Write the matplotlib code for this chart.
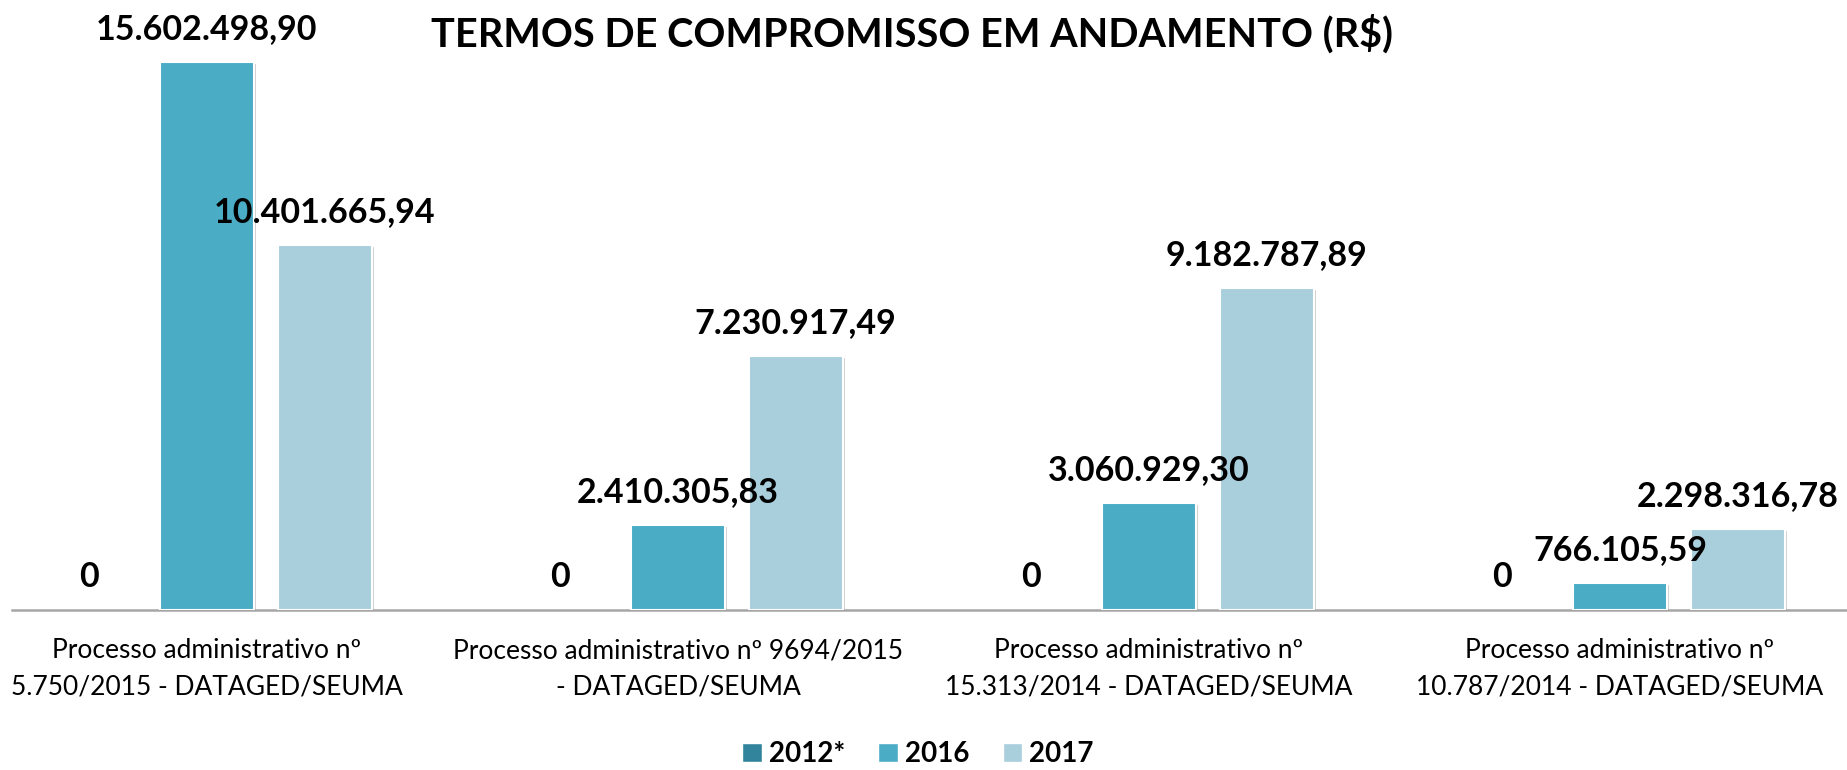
import matplotlib
matplotlib.use("Agg")
import matplotlib.pyplot as plt
import matplotlib.patheffects as pe
from matplotlib.patches import Patch
from matplotlib.transforms import blended_transform_factory
import numpy as np

# ---------------- data ----------------
categories = [
    "Processo administrativo nº\n5.750/2015 - DATAGED/SEUMA",
    "Processo administrativo nº 9694/2015\n- DATAGED/SEUMA",
    "Processo administrativo nº\n15.313/2014 - DATAGED/SEUMA",
    "Processo administrativo nº\n10.787/2014 - DATAGED/SEUMA",
]
series_names = ["2012*", "2016", "2017"]
values_2012 = [0, 0, 0, 0]
values_2016 = [15602498.90, 2410305.83, 3060929.30, 766105.59]
values_2017 = [10401665.94, 7230917.49, 9182787.89, 2298316.78]
title = "TERMOS DE COMPROMISSO EM ANDAMENTO (R$)"

# ---------------- style ----------------
colors = ["#31849B", "#4BACC6", "#A9CEDC"]
FONT = ["Lato", "DejaVu Sans"]
W, H, DPI = 1847, 770, 100


def fmt_br(v):
    if v == 0:
        return "0"
    s = f"{v:,.2f}"
    return s.replace(",", "X").replace(".", ",").replace("X", ".")


fig = plt.figure(figsize=(W / DPI, H / DPI), dpi=DPI)
ax = fig.add_axes([12 / W, 1 - 610 / H, 1 - 12 / W, 610 / H])

x = np.arange(len(categories))
offsets = [-0.25, 0.0, 0.25]
width = 0.2
all_series = [values_2012, values_2016, values_2017]

shadow = [pe.SimplePatchShadow(offset=(1.5, -1.5), shadow_rgbFace="#808080", alpha=0.35), pe.Normal()]

for vals, off, col in zip(all_series, offsets, colors):
    bars = ax.bar(x + off, vals, width=width, color=col, edgecolor="white",
                  linewidth=1.5, zorder=3)
    for b in bars:
        if b.get_height() > 0:
            b.set_path_effects(shadow)
        else:
            b.set_linewidth(0)
    for xi, v in zip(x + off, vals):
        ax.annotate(fmt_br(v), xy=(xi, v), xytext=(0, 16.5), textcoords="offset points",
                    ha="center", va="baseline", fontsize=24.5, fontweight="bold",
                    family=FONT, color="black", zorder=5, annotation_clip=False)

ax.set_xlim(-0.414, 3.482)
ax.set_ylim(0, 17.37e6)
for s in ["top", "left", "right"]:
    ax.spines[s].set_visible(False)
ax.spines["bottom"].set_color("#A6A6A6")
ax.spines["bottom"].set_linewidth(1.8)
ax.spines["bottom"].set_zorder(2)
ax.set_yticks([])
ax.set_xticks([])

# category labels (two lines each)
trans = blended_transform_factory(ax.transData, fig.transFigure)
for xi, cat in zip(x, categories):
    lines = cat.split("\n")
    for k, line in enumerate(lines):
        fig.text(xi, 1 - (658 + 36 * k) / H, line, transform=trans,
                 ha="center", va="baseline", fontsize=19, family=FONT, color="black")

# title
fig.text(912 / W, 1 - 47 / H, title, ha="center", va="baseline", fontsize=28.5,
         fontweight="bold", family=FONT, color="black")

# legend
handles = [Patch(facecolor=c, edgecolor="white") for c in colors]
leg = fig.legend(handles, series_names, loc="center", bbox_to_anchor=(0.497, 1 - 754 / H),
                 ncol=3, frameon=False, handlelength=0.7, handleheight=0.7,
                 handletextpad=0.25, columnspacing=1.2, borderpad=0.1,
                 prop={"family": FONT, "weight": "bold", "size": 20})

fig.savefig("out.png", dpi=DPI)
